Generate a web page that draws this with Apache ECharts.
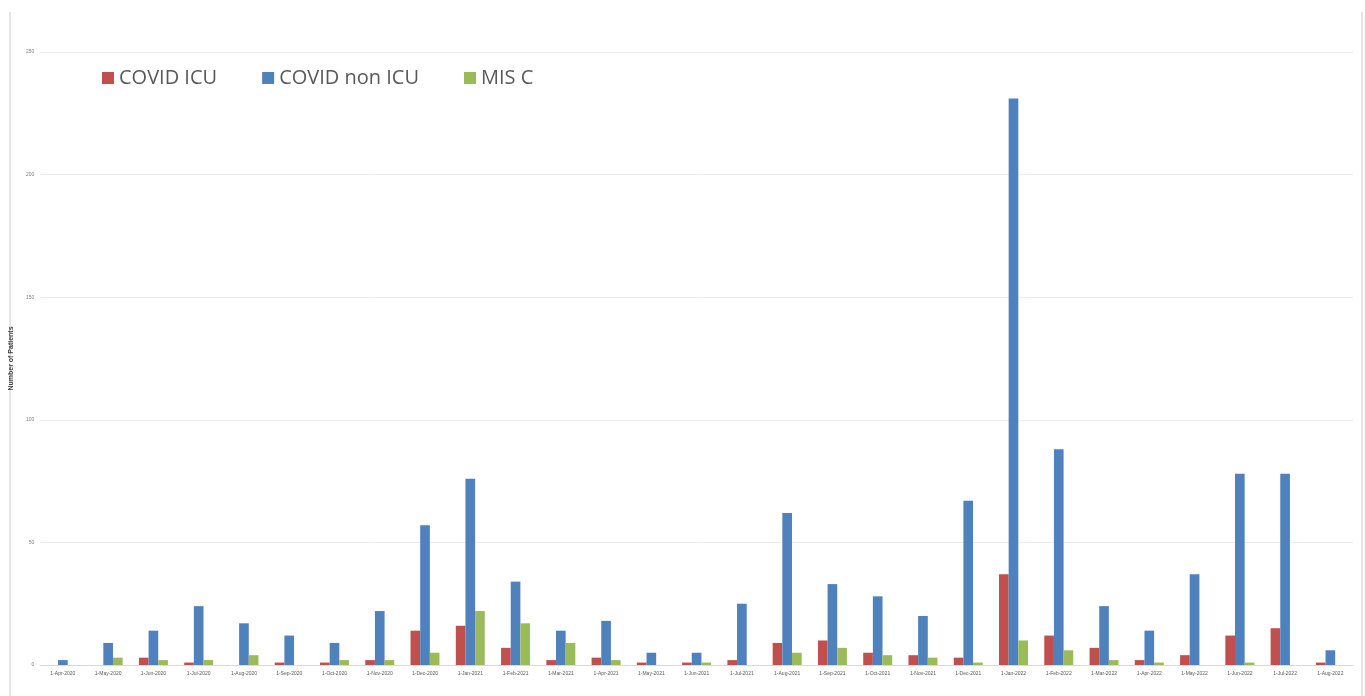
<!DOCTYPE html>
<html>
<head>
<meta charset="utf-8">
<script src="https://cdn.jsdelivr.net/npm/echarts@6/dist/echarts.min.js"></script>
<style>
html,body{margin:0;padding:0;background:#fff;}
#c{width:1365px;height:696px;}
</style>
</head>
<body>
<div id="c"></div>
<script>
const categories = ["1-Apr-2020","1-May-2020","1-Jun-2020","1-Jul-2020","1-Aug-2020","1-Sep-2020","1-Oct-2020","1-Nov-2020","1-Dec-2020","1-Jan-2021","1-Feb-2021","1-Mar-2021","1-Apr-2021","1-May-2021","1-Jun-2021","1-Jul-2021","1-Aug-2021","1-Sep-2021","1-Oct-2021","1-Nov-2021","1-Dec-2021","1-Jan-2022","1-Feb-2022","1-Mar-2022","1-Apr-2022","1-May-2022","1-Jun-2022","1-Jul-2022","1-Aug-2022"];
const covidICU = [0,0,3,1,0,1,1,2,14,16,7,2,3,1,1,2,9,10,5,4,3,37,12,7,2,4,12,15,1];
const covidNonICU = [2,9,14,24,17,12,9,22,57,76,34,14,18,5,5,25,62,33,28,20,67,231,88,24,14,37,78,78,6];
const misC = [0,3,2,2,4,0,2,2,5,22,17,9,2,0,1,0,5,7,4,3,1,10,6,2,1,0,1,0,0];
const yTicks = [0,50,100,150,200,250];

const chart = echarts.init(document.getElementById('c'));
chart.setOption({
  animation:false,
  backgroundColor:'#fff',
  graphic:[
    {type:'line',shape:{x1:10,y1:12,x2:10,y2:696},style:{stroke:'#e6e6e6',lineWidth:2}},
    {type:'line',shape:{x1:1362,y1:12,x2:1362,y2:696},style:{stroke:'#e6e6e6',lineWidth:2}}
  ],
  legend:{
    left:97, top:63, itemWidth:12, itemHeight:12, itemGap:45,
    icon:'rect',
    textStyle:{color:'#595959',fontSize:20,fontFamily:'Open Sans'},
    data:['COVID ICU','COVID non ICU','MIS C']
  },
  grid:{left:38,right:12,top:52,bottom:31,containLabel:false},
  xAxis:{
    type:'category', data:categories,
    axisLine:{lineStyle:{color:'#d9d9d9'}},
    axisTick:{show:false},
    axisLabel:{fontSize:5,color:'#595959',margin:6,interval:0}
  },
  yAxis:{
    type:'value', min:yTicks[0], max:yTicks[yTicks.length-1], interval:50,
    name:'Number of Patients', nameLocation:'middle', nameGap:21,
    nameTextStyle:{fontSize:7,color:'#404040',fontWeight:'bold'},
    axisLine:{show:false}, axisTick:{show:false},
    axisLabel:{fontSize:5,color:'#7f7f7f',margin:6},
    splitLine:{lineStyle:{color:'#ececec'}}
  },
  series:[
    {name:'COVID ICU',type:'bar',data:covidICU,itemStyle:{color:'#C0504D'},barGap:'0%',barCategoryGap:'36%'},
    {name:'COVID non ICU',type:'bar',data:covidNonICU,itemStyle:{color:'#4F81BD'},barGap:'0%',barCategoryGap:'36%'},
    {name:'MIS C',type:'bar',data:misC,itemStyle:{color:'#9BBB59'},barGap:'0%',barCategoryGap:'36%'}
  ]
});
</script>
</body>
</html>
